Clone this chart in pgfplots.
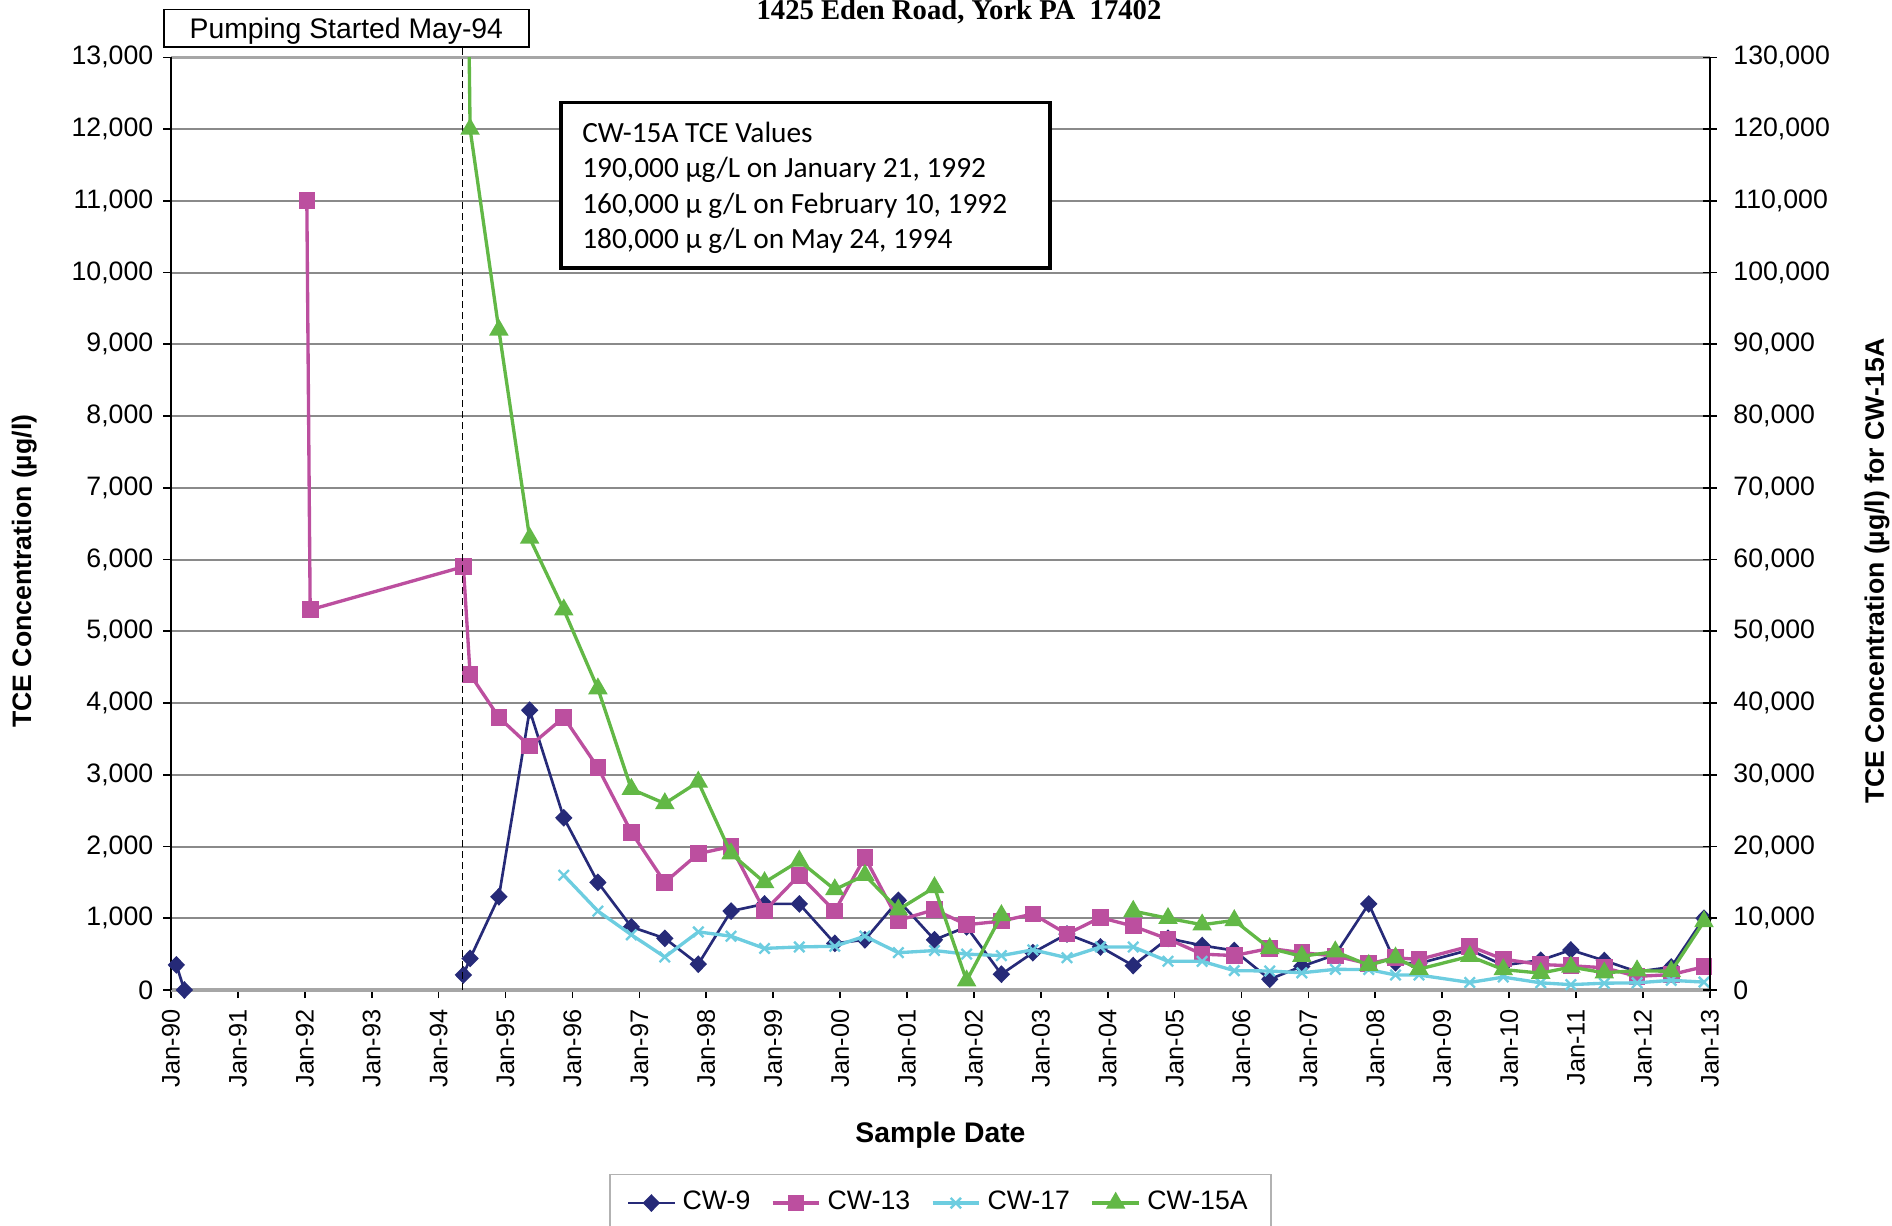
\documentclass[border=0pt]{standalone}
\usepackage{fontspec}
\setmainfont{Liberation Sans}
\newfontfamily\timesfont{Liberation Serif}
\newfontfamily\calibrifont{Carlito}
\usepackage{pgfplots}
\pgfplotsset{compat=1.18}
\definecolor{cwnavy}{HTML}{262A78}
\definecolor{cwpink}{HTML}{BC4F9F}
\definecolor{cwcyan}{HTML}{6DCDE0}
\definecolor{cwgreen}{HTML}{62B846}
\definecolor{gridgray}{HTML}{8A8A8A}
\begin{document}
\begin{tikzpicture}[x=1pt,y=1pt]
\useasboundingbox (0,0) rectangle (567.6,367.5);
\begin{axis}[
  at={(51.3pt,70.5pt)}, anchor=south west,
  scale only axis, width=461.7pt, height=279.8pt,
  xmin=1990, xmax=2013, ymin=0, ymax=13000,
  xtick={1990,...,2013},
  xticklabels={Jan-90,Jan-91,Jan-92,Jan-93,Jan-94,Jan-95,Jan-96,Jan-97,Jan-98,Jan-99,Jan-00,Jan-01,Jan-02,Jan-03,Jan-04,Jan-05,Jan-06,Jan-07,Jan-08,Jan-09,Jan-10,Jan-11,Jan-12,Jan-13},
  minor x tick num=1,
  xtick pos=bottom, ytick pos=left, tick align=outside,
  major tick length=2.4pt, minor tick length=2.4pt,
  ytick distance=1000,
  ymajorgrids, major grid style={gridgray, line width=0.6pt},
  separate axis lines,
  x axis line style={gray!70, line width=1pt},
  y axis line style={black, line width=0.6pt},
  tick style={black, line width=0.5pt},
  /pgf/number format/.cd, fixed, precision=0, 1000 sep={,}, assume math mode=true,
  /pgfplots/.cd,
  scaled y ticks=false,
  tick label style={font=\fontsize{8}{9}\selectfont},
  yticklabel style={xshift=0.6pt},
  xticklabel style={rotate=90, anchor=east, font=\fontsize{7.6}{9}\selectfont},
  xlabel={Sample Date}, ylabel={TCE Concentration (µg/l)},
  every axis x label/.style={at={(axis description cs:0.5,-0.1558)}, anchor=center, font=\bfseries\fontsize{8.5}{10}\selectfont},
  every axis y label/.style={at={(axis description cs:-0.0953,0.449)}, rotate=90, anchor=center, font=\bfseries\fontsize{8}{10}\selectfont},
  unbounded coords=jump,
  clip mode=individual,
  legend columns=4,
  legend image code/.code={\draw[mark repeat=2,mark phase=2,#1] plot coordinates {(0pt,0pt) (7pt,0pt) (14pt,0pt)};},
  legend style={at={(axis description cs:0.5,-0.2284)}, anchor=center, draw=gray!60, line width=0.5pt, font=\fontsize{8}{9.5}\selectfont, inner xsep=5pt, inner ysep=3pt, /tikz/every even column/.append style={column sep=4.2pt}},
  legend cell align=left,
]
\addplot[cwnavy, line width=0.8pt, mark=diamond*, mark size=2.1pt, mark options={solid, fill=cwnavy, xscale=1.3}] coordinates {
(1990.08,350) (1990.2,0) (1992,nan) (1994.37,210) (1994.47,440) (1994.9,1300) (1995.36,3900) (1995.87,2400) (1996.38,1500) (1996.88,880) (1997.38,720) (1997.88,360) (1998.37,1100) (1998.87,1200) (1999.39,1200) (1999.92,650) (2000.37,700) (2000.87,1250) (2001.41,700) (2001.89,880) (2002.41,220) (2002.88,520) (2003.39,780) (2003.89,600) (2004.38,340) (2004.9,720) (2005.41,620) (2005.89,550) (2006.42,150) (2006.9,330) (2007.4,490) (2007.9,1200) (2008.3,380) (2008.65,370) (2009.41,560) (2009.91,345) (2010.47,415) (2010.92,558) (2011.42,410) (2011.91,255) (2012.42,320) (2012.91,1000)
};
\addlegendentry{CW-9}
\addplot[cwpink, line width=1pt, mark=square*, mark size=2pt, mark options={solid, fill=cwpink}] coordinates {
(1992.03,11000) (1992.08,5300) (1994.37,5900) (1994.47,4400) (1994.9,3800) (1995.36,3400) (1995.87,3800) (1996.38,3100) (1996.88,2200) (1997.38,1500) (1997.88,1900) (1998.37,2000) (1998.87,1100) (1999.39,1600) (1999.92,1100) (2000.37,1850) (2000.87,970) (2001.41,1120) (2001.89,910) (2002.41,960) (2002.88,1060) (2003.39,780) (2003.89,1010) (2004.38,890) (2004.9,710) (2005.41,500) (2005.89,480) (2006.42,580) (2006.9,520) (2007.4,474) (2007.9,365) (2008.3,450) (2008.65,425) (2009.41,610) (2009.91,430) (2010.47,355) (2010.92,338) (2011.42,310) (2011.91,190) (2012.42,215) (2012.91,325)
};
\addlegendentry{CW-13}
\addplot[cwcyan, line width=1pt, mark=x, mark size=2.2pt, mark options={solid, line width=0.7pt}] coordinates {
(1995.87,1600) (1996.38,1100) (1996.88,770) (1997.38,460) (1997.88,810) (1998.37,750) (1998.87,580) (1999.39,600) (1999.92,610) (2000.37,750) (2000.87,520) (2001.41,550) (2001.89,500) (2002.41,480) (2002.88,560) (2003.39,450) (2003.89,600) (2004.38,600) (2004.9,400) (2005.41,400) (2005.89,270) (2006.42,265) (2006.9,240) (2007.4,288) (2007.9,285) (2008.3,209) (2008.65,209) (2009.41,105) (2009.91,180) (2010.47,100) (2010.92,75) (2011.42,95) (2011.91,100) (2012.42,135) (2012.91,110)
};
\addlegendentry{CW-17}
\addlegendimage{cwgreen, line width=1pt, mark=triangle*, mark size=2.4pt, mark options={solid, fill=cwgreen}}
\addlegendentry{CW-15A}
\draw[black, line width=0.45pt, dash pattern=on 2pt off 1.3pt] (axis cs:1994.36,0) -- (axis cs:1994.36,13140);
\end{axis}
\begin{axis}[
  at={(51.3pt,70.5pt)}, anchor=south west,
  scale only axis, width=461.7pt, height=279.8pt,
  xmin=1990, xmax=2013, ymin=0, ymax=130000,
  axis x line=none, axis y line*=right,
  y axis line style={black, line width=0.6pt},
  ytick distance=10000, tick align=center,
  major tick length=4pt,
  tick style={black, line width=0.5pt},
  /pgf/number format/.cd, fixed, precision=0, 1000 sep={,}, assume math mode=true,
  /pgfplots/.cd,
  scaled y ticks=false,
  tick label style={font=\fontsize{8}{9}\selectfont},
  yticklabel style={xshift=1.5pt},
  ylabel={TCE Concentration (µg/l) for CW-15A},
  every axis y label/.style={at={(axis description cs:1.1085,0.449)}, rotate=90, anchor=center, font=\bfseries\fontsize{8}{10}\selectfont},
  unbounded coords=jump,
]
\addplot[cwgreen, line width=1pt, mark=triangle*, mark size=2.4pt, mark options={solid, fill=cwgreen}] coordinates {
(1992.03,190000) (1992.08,160000) (1994.39,180000) (1994.47,120000) (1994.9,92000) (1995.36,63000) (1995.87,53000) (1996.38,42000) (1996.88,28000) (1997.38,26000) (1997.88,29000) (1998.37,19000) (1998.87,15000) (1999.39,18000) (1999.92,14000) (2000.37,16000) (2000.87,11200) (2001.41,14300) (2001.89,1300) (2002.41,10400) (2003.4,nan) (2004.38,11000) (2004.9,10000) (2005.41,9100) (2005.89,9700) (2006.42,5800) (2006.9,4700) (2007.4,5350) (2007.9,3450) (2008.3,4500) (2008.65,2900) (2009.41,4700) (2009.91,2850) (2010.47,2350) (2010.92,3200) (2011.42,2400) (2011.91,2700) (2012.42,2600) (2012.91,9550)
};
\end{axis}
% title and annotations
\node[font=\timesfont\bfseries\fontsize{8.6}{10}\selectfont, anchor=base] at (287.7,361.7) {1425 Eden Road, York PA\ \ 17402};
\draw[black, line width=0.5pt, fill=white] (49.2,353.4) rectangle (158.6,364.6);
\node[font=\fontsize{8.5}{10}\selectfont, anchor=base, inner sep=0pt] at (103.9,355.9) {Pumping Started May-94};
\draw[black, line width=1.1pt, fill=white] (168.3,287.1) rectangle (314.9,336.7);
\node[font=\calibrifont\fontsize{8.8}{10}\selectfont, anchor=base west, inner sep=0pt] at (174.5,324.8) {CW-15A TCE Values};
\node[font=\calibrifont\fontsize{8.8}{10}\selectfont, anchor=base west, inner sep=0pt] at (174.5,314.1) {190,000 µg/L on January 21, 1992};
\node[font=\calibrifont\fontsize{8.8}{10}\selectfont, anchor=base west, inner sep=0pt] at (174.5,303.5) {160,000 µ g/L on February 10, 1992};
\node[font=\calibrifont\fontsize{8.8}{10}\selectfont, anchor=base west, inner sep=0pt] at (174.5,293.0) {180,000 µ g/L on May 24, 1994};
\end{tikzpicture}
\end{document}
